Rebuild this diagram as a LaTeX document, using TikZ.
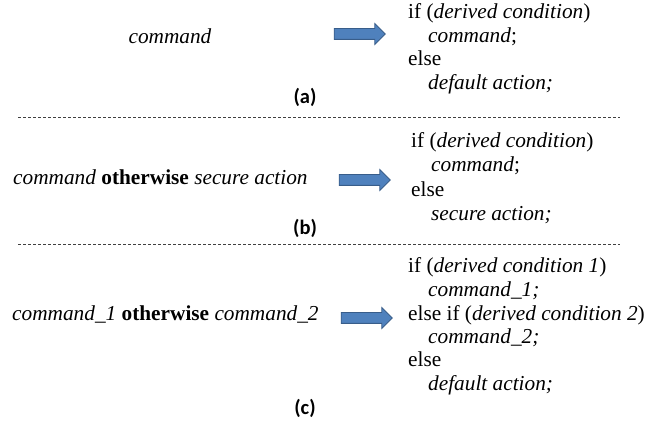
\documentclass[tikz,border=0pt]{standalone}
\usepackage{fontspec}
\setmainfont{Liberation Serif}
\newfontfamily\lblfont{Carlito}
\usetikzlibrary{shapes.arrows}
\begin{document}
\begin{tikzpicture}[x=1pt,y=-1pt,
  txt/.style={anchor=base west,inner sep=0pt,font=\fontsize{21.3}{24}\selectfont},
  ctxt/.style={anchor=base,inner sep=0pt,font=\fontsize{21.3}{24}\selectfont},
  lbl/.style={anchor=base,inner sep=0pt,font=\lblfont\bfseries\fontsize{20.5}{24}\selectfont},
  barrow/.style={single arrow,line width=0.8pt,
    minimum height=51pt,minimum width=20pt,single arrow head extend=5pt,inner sep=5pt,
    fill={rgb,255:red,79;green,129;blue,189},draw={rgb,255:red,56;green,93;blue,138}},
  sep/.style={dashed,dash pattern=on 3pt off 2pt,line width=0.5pt,black!75}]
\useasboundingbox (0,0) rectangle (672,427);
% (a)
\node[ctxt] (ca) at (170,44) {\textit{command}};
\node[barrow] (aa) at (357,34) {};
\node[txt] (a1) at (408,19) {if (\textit{derived condition})};
\node[txt] (a2) at (428,43) {\textit{command};};
\node[txt] (a3) at (408,66) {else};
\node[txt] (a4) at (428,90) {\textit{default action;}};
\node[lbl] (la) at (305,104) {(a)};
\coordinate (d1a) at (18,117);
\coordinate (d1b) at (620,117);
\draw[sep] (d1a) -- (d1b);
% (b)
\node[txt] (cb) at (13,185) {\textit{command} \textbf{otherwise} \textit{secure action}};
\node[barrow] (ab) at (362,180) {};
\node[txt] (b1) at (411,148) {if (\textit{derived condition})};
\node[txt] (b2) at (431,172) {\textit{command};};
\node[txt] (b3) at (411,197) {else};
\node[txt] (b4) at (431,221) {\textit{secure action;}};
\node[lbl] (lb) at (305,235) {(b)};
\coordinate (d2a) at (18,244);
\coordinate (d2b) at (620,244);
\draw[sep] (d2a) -- (d2b);
% (c)
\node[txt] (cc) at (12,321) {\textit{command\_1} \textbf{otherwise} \textit{command\_2}};
\node[barrow] (ac) at (364,318) {};
\node[txt] (c1) at (408,273) {if (\textit{derived condition 1})};
\node[txt] (c2) at (428,297) {\textit{command\_1;}};
\node[txt] (c3) at (408,321) {else if (\textit{derived condition 2})};
\node[txt] (c4) at (428,344) {\textit{command\_2;}};
\node[txt] (c5) at (408,367) {else};
\node[txt] (c6) at (428,391) {\textit{default action;}};
\node[lbl] (lc) at (305,414) {(c)};
\end{tikzpicture}
\end{document}
